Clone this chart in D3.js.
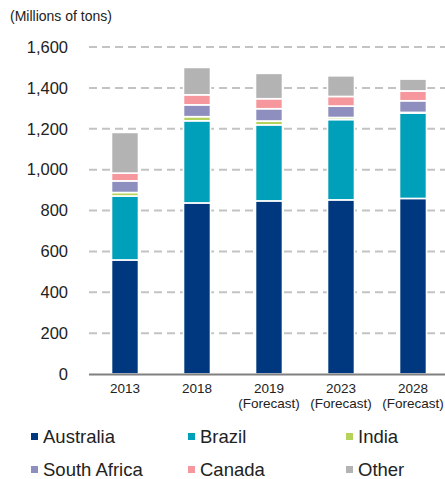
<!DOCTYPE html>
<html>
<head>
<meta charset="utf-8">
<script src="https://cdn.jsdelivr.net/npm/d3@7"></script>
<style>
  body { margin: 0; background: #fff; }
  svg text { font-family: "Liberation Sans", Arial, sans-serif; fill: #222; }
</style>
</head>
<body>
<div id="chart"></div>
<script>
// data (millions of tons)
const years = ["2013", "2018", "2019", "2023", "2028"];
const subLabels = ["", "", "(Forecast)", "(Forecast)", "(Forecast)"];
const countries = ["Australia", "Brazil", "India", "South Africa", "Canada", "Other"];
const australia = [558, 837, 847, 852, 859];
const brazil = [313, 402, 372, 393, 418];
const india = [17, 20, 19, 10, 3];
const southAfrica = [57, 58, 60, 56, 57];
const canada = [38, 49, 49, 47, 48];
const other = [199, 134, 124, 101, 58];
const yTicks = [0, 200, 400, 600, 800, 1000, 1200, 1400, 1600];

const colors = ["#00387f", "#00a0bb", "#b5d35a", "#8f8fbf", "#f5979c", "#b3b3b3"];

let width = 445, height = 479;

// build rows for the stack
let table = years.map(function (y, i) {
  return {
    year: y,
    "Australia": australia[i],
    "Brazil": brazil[i],
    "India": india[i],
    "South Africa": southAfrica[i],
    "Canada": canada[i],
    "Other": other[i]
  };
});

var svg = d3.select("#chart").append("svg")
  .attr("width", width)
  .attr("height", height);

var x = d3.scaleBand().domain(years).range([89, 449])
  .paddingInner(0.625).paddingOuter(0.3125);
var y = d3.scaleLinear().domain([0, 1600]).range([374, 47]);

// units label
svg.append("text")
  .attr("x", 10).attr("y", 21)
  .style("font-size", "14px")
  .text("(Millions of tons)");

// dashed gridlines
svg.append("g").selectAll("line")
  .data(yTicks.filter(d => d > 0))
  .enter().append("line")
  .attr("x1", 89).attr("x2", 445)
  .attr("y1", d => y(d)).attr("y2", d => y(d))
  .attr("stroke", "#c3c3c3")
  .attr("stroke-width", 2)
  .attr("stroke-dasharray", "8,5");

// y axis labels
var yAxis = svg.append("g")
  .attr("transform", "translate(74,0)")
  .call(d3.axisLeft(y).tickValues(yTicks).tickSize(0).tickPadding(6).tickFormat(d3.format(",")));
yAxis.select(".domain").remove();
yAxis.selectAll("text")
  .style("font-size", "16.5px")
  .style("font-family", "'Liberation Sans', Arial, sans-serif")
  .attr("fill", "#222");

// stacked bars
var stack = d3.stack().keys(countries);
var series = stack(table);

svg.append("g").selectAll("g")
  .data(series)
  .enter().append("g")
  .attr("fill", (d, i) => colors[i])
  .selectAll("rect")
  .data(d => d)
  .enter().append("rect")
  .attr("x", d => x(d.data.year))
  .attr("width", x.bandwidth())
  .attr("y", d => y(d[1]))
  .attr("height", d => Math.max(0, y(d[0]) - y(d[1])))
  .attr("stroke", "#fff")
  .attr("stroke-width", 1.6);

// x axis line
svg.append("line")
  .attr("x1", 89).attr("x2", 445)
  .attr("y1", y(0) + 0.5).attr("y2", y(0) + 0.5)
  .attr("stroke", "#808080")
  .attr("stroke-width", 2);

// x labels
var xl = svg.append("g");
xl.selectAll(".yr")
  .data(years)
  .enter().append("text")
  .attr("class", "yr")
  .attr("x", d => x(d) + x.bandwidth() / 2)
  .attr("y", 393)
  .attr("text-anchor", "middle")
  .style("font-size", "13.5px")
  .text(d => d);
xl.selectAll(".sub")
  .data(years)
  .enter().append("text")
  .attr("class", "sub")
  .attr("x", d => x(d) + x.bandwidth() / 2)
  .attr("y", 408)
  .attr("text-anchor", "middle")
  .style("font-size", "13.5px")
  .text((d, i) => subLabels[i]);

// legend
const legendX = [31, 188, 346];
const legendY = [436.5, 469.5];
var legend = svg.append("g").selectAll("g")
  .data(countries)
  .enter().append("g")
  .attr("transform", (d, i) => "translate(" + legendX[i % 3] + "," + legendY[Math.floor(i / 3)] + ")");
legend.append("rect")
  .attr("x", 0).attr("y", -3.5)
  .attr("width", 7).attr("height", 7)
  .attr("fill", (d, i) => colors[i]);
legend.append("text")
  .attr("x", 12).attr("y", 6.5)
  .style("font-size", "18.5px")
  .text(d => d);
</script>
</body>
</html>
